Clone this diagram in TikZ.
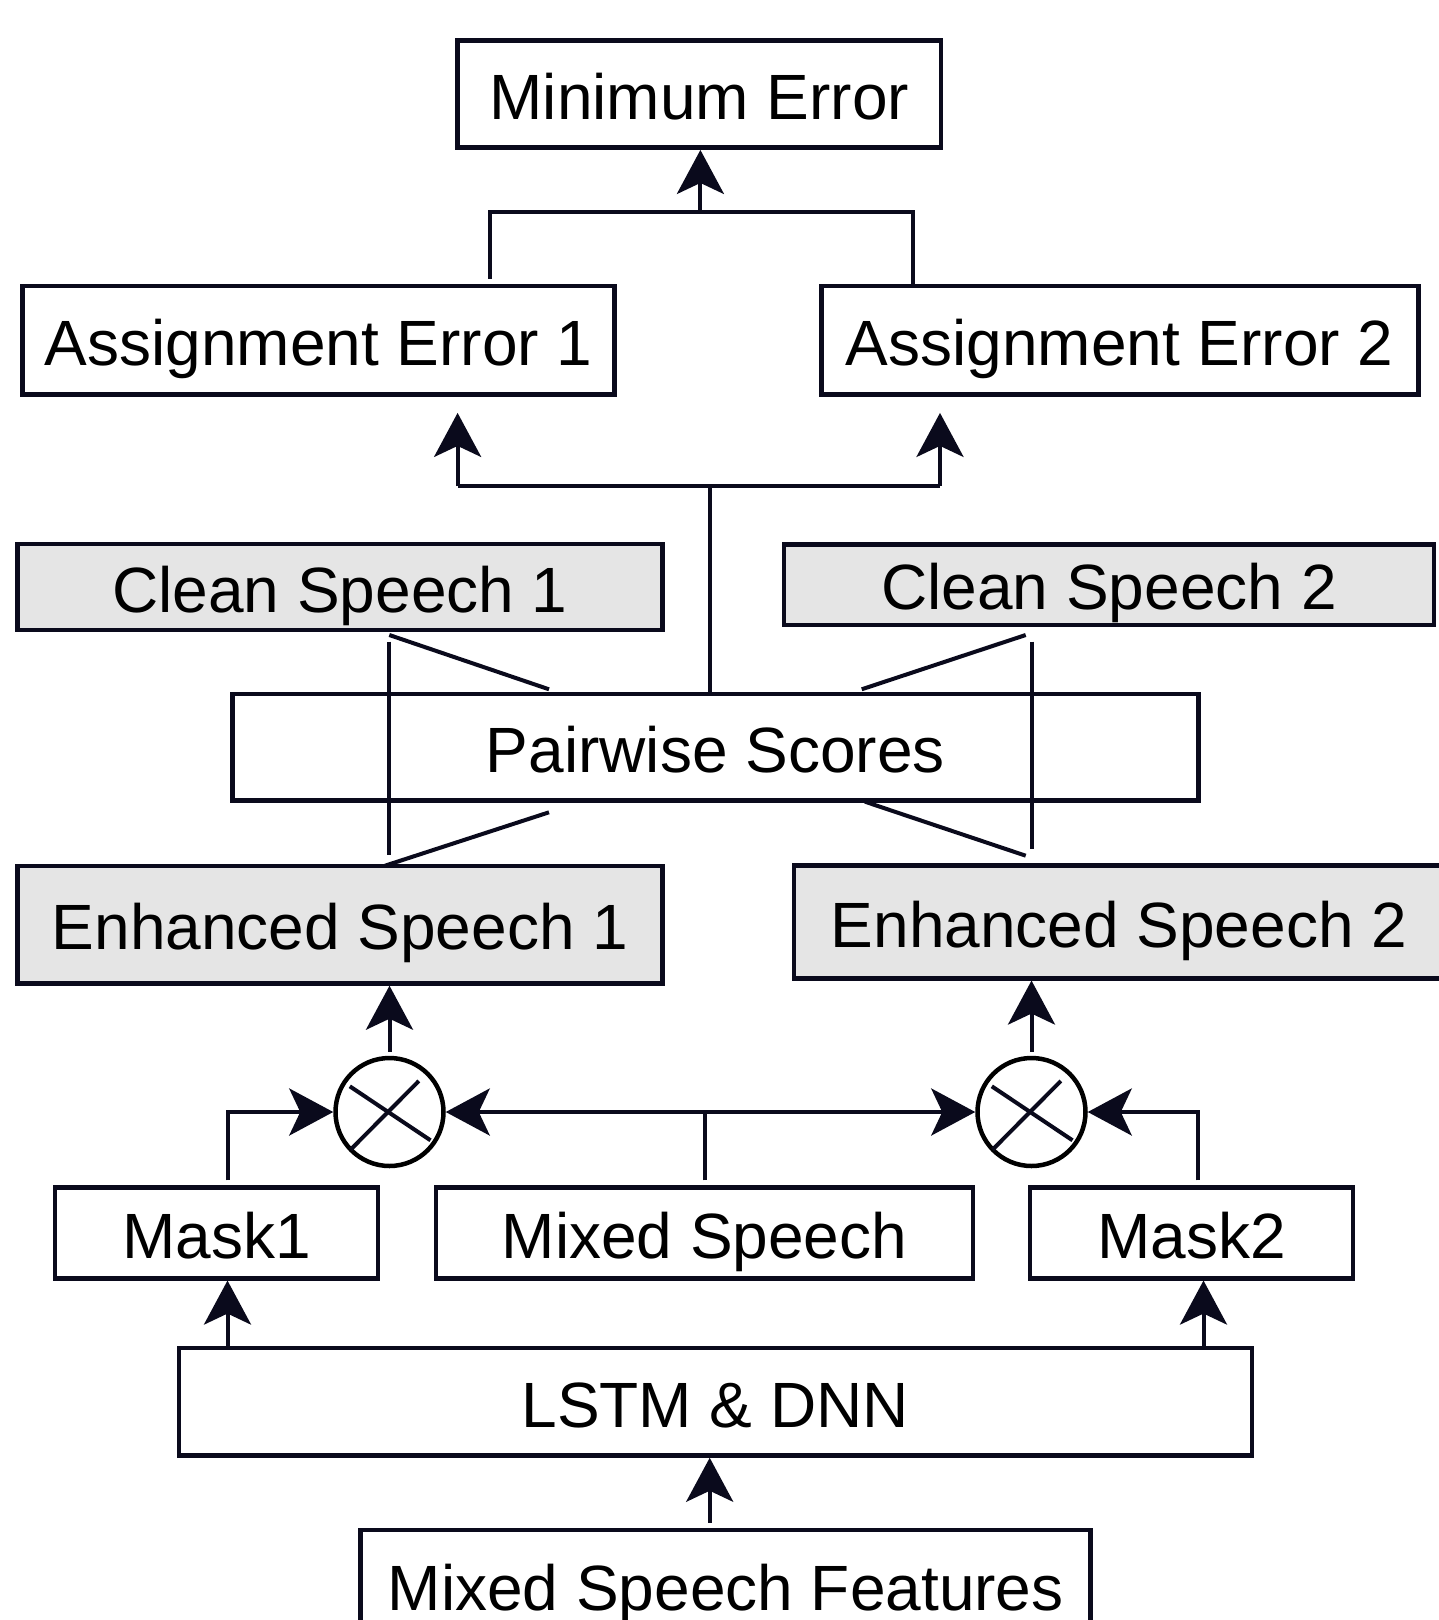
\documentclass[tikz,border=0pt]{standalone}
\usepackage{fontspec}
\setmainfont{Liberation Sans}
\usetikzlibrary{arrows.meta,calc}
\definecolor{ink}{RGB}{10,10,28}
\definecolor{shade}{RGB}{229,229,229}
\tikzset{
  box/.style={rectangle, draw=ink, line width=4.5pt, inner sep=0pt,
    text height=50.5pt, text depth=0pt, font=\fontsize{64}{77}\selectfont},
  gbox/.style={box, fill=shade},
  wire/.style={draw=ink, line width=4pt},
  arr/.style={wire, arrows={-Stealth[length=44pt,width=47pt,inset=11pt]}},
  twoway/.style={wire, arrows={Stealth[length=44pt,width=47pt,inset=11pt]-Stealth[length=44pt,width=47pt,inset=11pt]}},
  mult/.style={circle, draw=black, line width=4.5pt, minimum size=108pt, inner sep=0pt},
}
\begin{document}
\begin{tikzpicture}[x=1pt,y=-1pt]
\clip (0,0) rectangle (1439,1620);
\fill[white] (0,0) rectangle (1439,1620);

% boxes
\node[box, minimum width=483.5pt, minimum height=107.4pt] (minerr) at (699.4,94) {Minimum Error};
\node[box, minimum width=592pt, minimum height=108.5pt] (ae1) at (318.7,340.4) {Assignment Error 1};
\node[box, minimum width=597pt, minimum height=108.5pt] (ae2) at (1119.8,340.4) {Assignment Error 2};
\node[gbox, minimum width=644.6pt, minimum height=85.7pt] (cs1) at (340,587) {Clean Speech 1};
\node[gbox, minimum width=649.7pt, minimum height=80.6pt] (cs2) at (1109,584.7) {Clean Speech 2};
\node[box, minimum width=966pt, minimum height=106.4pt] (pw) at (715.4,747.4) {Pairwise Scores};
\node[gbox, minimum width=644.6pt, minimum height=117.7pt] (es1) at (340,924.6) {Enhanced Speech 1};
\node[gbox, minimum width=650pt, minimum height=112.6pt] (es2) at (1119,922) {Enhanced Speech 2};
\node[mult] (c1) at (389.5,1112) {};
\node[mult] (c2) at (1031.5,1112) {};
\node[box, minimum width=323pt, minimum height=90.6pt] (m1) at (216.7,1233) {Mask1};
\node[box, minimum width=537pt, minimum height=90.6pt] (ms) at (704.5,1233) {Mixed Speech};
\node[box, minimum width=323pt, minimum height=90.6pt] (m2) at (1191.6,1233) {Mask2};
\node[box, minimum width=1073pt, minimum height=107.4pt] (lstm) at (715.3,1401.8) {LSTM \& DNN};
\node[box, minimum width=730pt, minimum height=110pt] (msf) at (725.7,1585) {Mixed Speech Features};

% multiplication crosses
\foreach \c in {c1,c2}{
  \draw[wire] ($(\c.center)+(-39.7,-25.7)$) -- ($(\c.center)+(41,28.3)$);
  \draw[wire] ($(\c.center)+(29.3,-31)$) -- ($(\c.center)+(-39,37.7)$);
}

% routing points
\coordinate (xa) at (709.7,0);
\coordinate (xb) at (227.5,0);
\coordinate (xc) at (1203.5,0);
\coordinate (xd) at (1198.3,0);
\coordinate (xp) at (709.7,486);
\coordinate (sl) at (457.6,486);
\coordinate (sr) at (940,486);
\coordinate (tl) at (489.7,211.8);
\coordinate (tr) at (913.2,211.8);
\coordinate (tm) at (700.4,211.8);

% bottom part
\draw[arr, shorten <=5pt] (xa |- msf.north) -- (xa |- lstm.south);
\draw[arr] (xb |- lstm.north) -- (xb |- m1.south);
\draw[arr] (xc |- lstm.north) -- (xc |- m2.south);
\draw[arr, shorten <=5pt] (xb |- m1.north) -- (xb |- c1.center) -- (c1.west);
\draw[arr, shorten <=5pt] (xd |- m2.north) -- (xd |- c2.center) -- (c2.east);
\draw[wire, shorten <=5pt] (ms.north) -- (ms.north |- c1.center);
\draw[twoway] (c1.east) -- (c2.west);
\draw[arr, shorten <=4pt] (c1.north) -- (c1.north |- es1.south);
\draw[arr, shorten <=4pt] (c2.north) -- (c2.north |- es2.south);

% pairing lines around the score box
\draw[wire] (389,641.7) -- (389,855);
\draw[wire] (389.3,635) -- (549,689.3);
\draw[wire] (549,812.3) -- (385,865.7);
\draw[wire] (1032,641.7) -- (1032,849);
\draw[wire] (1025.7,635) -- (861.7,689.3);
\draw[wire] (865,801.7) -- (1025.7,855.7);

% scores to assignment errors
\draw[wire] (xp |- pw.north) -- (xp);
\draw[wire] (sl) -- (sr);
\draw[arr, shorten >=16pt] (sl) -- (sl |- ae1.south);
\draw[arr, shorten >=16pt] (sr) -- (sr |- ae2.south);

% assignment errors to minimum error
\draw[wire, shorten <=5pt] (tl |- ae1.north) -- (tl) -- (tr) -- (tr |- ae2.north);
\draw[arr] (tm) -- (tm |- minerr.south);
\end{tikzpicture}
\end{document}
